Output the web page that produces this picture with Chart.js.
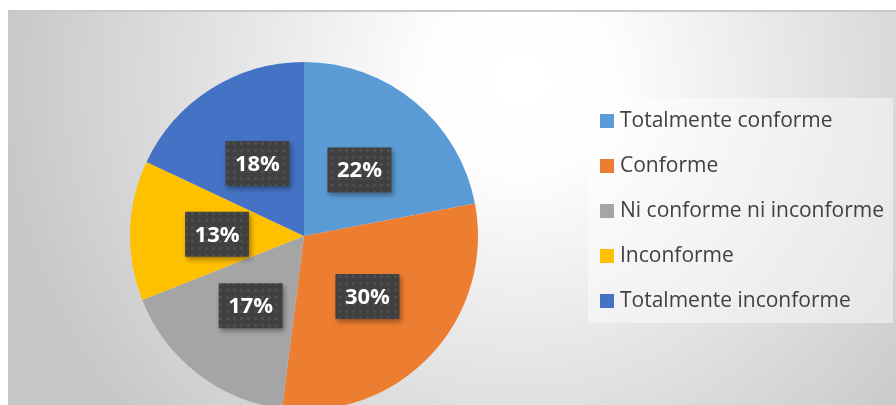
<!DOCTYPE html>
<html>
<head>
<meta charset="utf-8">
<script src="https://cdn.jsdelivr.net/npm/chart.js@4"></script>
<style>
  html, body { margin: 0; padding: 0; background: #fff; }
  #wrap { width: 896px; height: 405px; overflow: hidden; position: relative; }
</style>
</head>
<body>
<div id="wrap"><canvas id="pie" width="896" height="430"></canvas></div>
<script>
// Satisfaction pie
const categories = ['Totalmente conforme', 'Conforme', 'Ni conforme ni inconforme', 'Inconforme', 'Totalmente inconforme'];
const shares = [22, 30, 17, 13, 18];
const sliceColors = ['#5B9BD5', '#ED7D31', '#A5A5A5', '#FFC000', '#4472C4'];

const FONT = '"Open Sans", "DejaVu Sans", sans-serif';

const backgroundPlugin = {
    id: 'background',
    beforeDraw: chart => {
        const ctx = chart.ctx;
        ctx.save();
        const g = ctx.createRadialGradient(520, 80, 20, 520, 80, 530);
        g.addColorStop(0, '#ffffff');
        g.addColorStop(0.15, '#fdfdfd');
        g.addColorStop(1, '#c6c6c6');
        ctx.fillStyle = g;
        ctx.fillRect(8, 11, 888, 420);
        ctx.fillStyle = '#c9c9c9';
        ctx.fillRect(8, 10, 888, 2);
        ctx.restore();
    }
};

const makeDots = ctx => {
    const c = document.createElement('canvas');
    c.width = 7; c.height = 7;
    const p = c.getContext('2d');
    p.fillStyle = '#404040';
    p.fillRect(0, 0, 7, 7);
    p.fillStyle = '#4d4d4d';
    p.fillRect(2, 2, 3, 3);
    return ctx.createPattern(c, 'repeat');
};

const labelPlugin = {
    id: 'boxLabels',
    afterDatasetsDraw: chart => {
        const ctx = chart.ctx;
        const pattern = makeDots(ctx);
        const meta = chart.getDatasetMeta(0);
        meta.data.forEach((arc, i) => {
            const pos = arc.tooltipPosition();
            const text = shares[i] + '%';
            ctx.save();
            ctx.font = 'bold 22px ' + FONT;
            const w = ctx.measureText(text).width + 19;
            const h = 45;
            ctx.shadowColor = 'rgba(0,0,0,0.35)';
            ctx.shadowBlur = 5;
            ctx.shadowOffsetX = 2;
            ctx.shadowOffsetY = 3;
            ctx.fillStyle = pattern;
            ctx.fillRect(pos.x - w / 2, pos.y - h / 2 + 1, w, h);
            ctx.shadowColor = 'transparent';
            ctx.fillStyle = '#ffffff';
            ctx.textAlign = 'center';
            ctx.textBaseline = 'middle';
            ctx.fillText(text, pos.x, pos.y + 2);
            ctx.restore();
        });
    }
};

const legendPlugin = {
    id: 'boxLegend',
    afterDraw: chart => {
        const ctx = chart.ctx;
        ctx.save();
        ctx.fillStyle = 'rgba(255,255,255,0.45)';
        ctx.fillRect(588, 98, 305, 225);
        ctx.font = '21px ' + FONT;
        ctx.textBaseline = 'middle';
        chart.data.labels.forEach((lab, i) => {
            const y = 121 + i * 45;
            ctx.fillStyle = chart.data.datasets[0].backgroundColor[i];
            ctx.fillRect(600, y - 7, 14, 14);
            ctx.fillStyle = '#404040';
            ctx.fillText(lab, 620, y);
        });
        ctx.restore();
    }
};

const pieChart = new Chart(document.getElementById('pie').getContext('2d'), {
    type: 'pie',
    data: {
        labels: categories,
        datasets: [{
            data: shares,
            backgroundColor: sliceColors,
            borderWidth: 0,
            hoverOffset: 0
        }]
    },
    options: {
        responsive: false,
        animation: false,
        layout: {
            padding: { left: 130, top: 62, right: 418, bottom: 20 }
        },
        plugins: {
            legend: { display: false },
            tooltip: { enabled: false }
        }
    },
    plugins: [backgroundPlugin, labelPlugin, legendPlugin]
});
</script>
</body>
</html>
